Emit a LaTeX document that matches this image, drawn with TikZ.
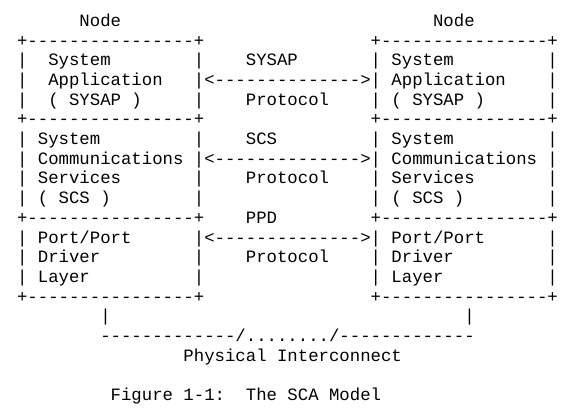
\documentclass[tikz,border=0pt]{standalone}
\usepackage{fontspec}
\setmonofont{Liberation Mono}
\begin{document}
\begin{tikzpicture}[x=7.8pt,y=-14.775pt,
  ascii/.style={font=\ttfamily\fontsize{13}{15}\selectfont,inner sep=0pt,anchor=base west}]
\useasboundingbox (-1.615,-1.335) rectangle (53.865,19.579);

% Node titles
\node[ascii] (nodeL) at (6,0) {Node};
\node[ascii] (nodeR) at (40,0) {Node};

% Box borders
\foreach \r in {1,5,10,14} {
  \node[ascii] (rimL\r) at (0,\r) {+----------------+};
  \node[ascii] (rimR\r) at (34,\r) {+----------------+};
}
\foreach \r in {2,3,4,6,7,8,9,11,12,13} {
  \node[ascii] (barA\r) at (0,\r) {|};
  \node[ascii] (barB\r) at (17,\r) {|};
  \node[ascii] (barC\r) at (34,\r) {|};
  \node[ascii] (barD\r) at (51,\r) {|};
}

% Layer names, both nodes
\foreach \side/\cola/\colb in {L/3/2,R/36/36} {
  \node[ascii] (sysap1\side) at (\cola,2) {System};
  \node[ascii] (sysap2\side) at (\cola,3) {Application};
  \node[ascii] (sysap3\side) at (\cola,4) {( SYSAP )};
  \node[ascii] (scs1\side) at (\colb,6) {System};
  \node[ascii] (scs2\side) at (\colb,7) {Communications};
  \node[ascii] (scs3\side) at (\colb,8) {Services};
  \node[ascii] (scs4\side) at (\colb,9) {( SCS )};
  \node[ascii] (ppd1\side) at (\colb,11) {Port/Port};
  \node[ascii] (ppd2\side) at (\colb,12) {Driver};
  \node[ascii] (ppd3\side) at (\colb,13) {Layer};
}

% Protocols
\node[ascii] (sysapTop) at (22,2) {SYSAP};
\node[ascii] (sysapArr) at (18,3) {<-------------->};
\node[ascii] (sysapBot) at (22,4) {Protocol};
\node[ascii] (scsTop) at (22,6) {SCS};
\node[ascii] (scsArr) at (18,7) {<-------------->};
\node[ascii] (scsBot) at (22,8) {Protocol};
\node[ascii] (ppdTop) at (22,10) {PPD};
\node[ascii] (ppdArr) at (18,11) {<-------------->};
\node[ascii] (ppdBot) at (22,12) {Protocol};

% Interconnect
\node[ascii] (dropL) at (8,15) {|};
\node[ascii] (dropR) at (43,15) {|};
\node[ascii] (bus) at (8,16) {-------------/......../-------------};
\node[ascii] (busName) at (16,17) {Physical Interconnect};

% Caption
\node[ascii] (capNum) at (9,19) {Figure 1-1:};
\node[ascii] (capText) at (22,19) {The SCA Model};
\end{tikzpicture}
\end{document}
